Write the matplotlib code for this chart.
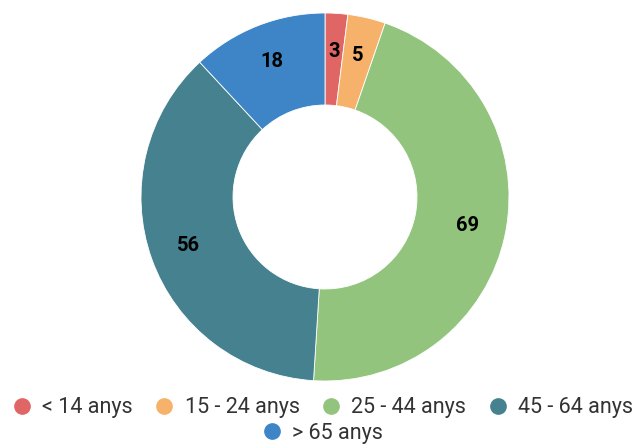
import matplotlib.pyplot as plt
from matplotlib.lines import Line2D

labels = ["< 14 anys", "15 - 24 anys", "25 - 44 anys", "45 - 64 anys", "> 65 anys"]
values = [3, 5, 69, 56, 18]
colors = ["#e06666", "#f6b26b", "#93c47d", "#45818e", "#3d85c6"]

plt.rcParams["font.family"] = ["Roboto", "DejaVu Sans"]

fig = plt.figure(figsize=(6.41, 4.45), dpi=100)
W, H = 641, 445
cx, cy, r = 325, 197, 184
ax = fig.add_axes([(cx - r) / W, (H - cy - r) / H, 2 * r / W, 2 * r / H])

wedges, texts = ax.pie(values, colors=colors, startangle=90, counterclock=False,
                       radius=1.0, labels=[str(v) for v in values],
                       labeldistance=0.79,
                       wedgeprops=dict(width=0.5, edgecolor="white", linewidth=0.6),
                       textprops=dict(fontsize=14.5, fontweight="bold", color="black"))
for t in texts:
    t.set_ha("center")
    t.set_va("center")
ax.set_xlim(-1, 1)
ax.set_ylim(-1, 1)
ax.set_aspect("equal")
ax.axis("off")

def handle(c):
    return Line2D([], [], marker="o", linestyle="", markersize=11,
                  markerfacecolor=c, markeredgecolor=c)

leg1 = fig.legend([handle(c) for c in colors[:4]], labels[:4], loc="center",
                  bbox_to_anchor=(0.5, 1 - 408 / H), ncol=4, frameon=False,
                  fontsize=15.5, handletextpad=0.3, columnspacing=0.8,
                  handlelength=1.3, labelcolor="#333333", borderpad=0)
leg2 = fig.legend([handle(colors[4])], labels[4:], loc="center",
                  bbox_to_anchor=(0.5, 1 - 433 / H), ncol=1, frameon=False,
                  fontsize=15.5, handletextpad=0.3, handlelength=1.3,
                  labelcolor="#333333", borderpad=0)

fig.savefig("out.png", dpi=100)
